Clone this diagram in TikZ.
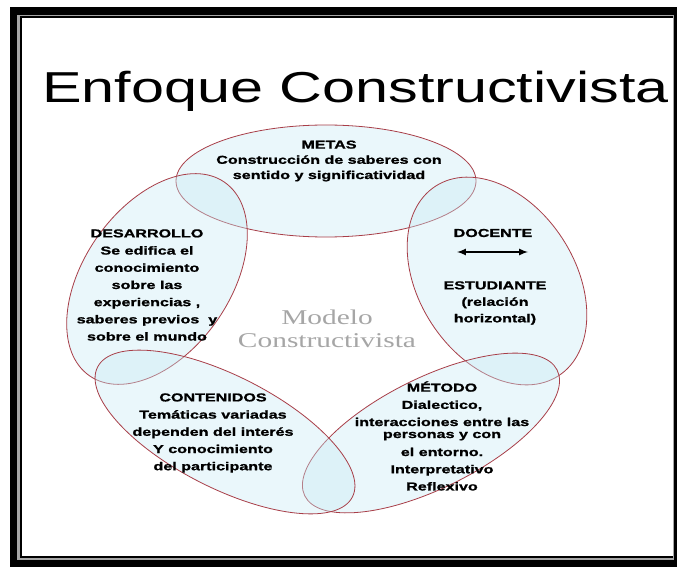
\documentclass[tikz,border=0pt]{standalone}
\usepackage{fontspec}
\setmainfont{Liberation Sans}
\newfontfamily\titlefont[FakeStretch=1.37]{Liberation Sans}
\newfontfamily\boxfont[FakeStretch=1.4, BoldFeatures={FakeBold=1.2}]{Liberation Sans}
\newfontfamily\modelfont[FakeStretch=1.4]{Liberation Serif}
\definecolor{rim}{RGB}{168,62,72}
\definecolor{bubfill}{RGB}{200,235,245}

\begin{document}
\begin{tikzpicture}[x=1pt,y=-1pt,
  bub/.style={draw=rim, line width=0.8pt, fill=bubfill, fill opacity=0.38},
  lbl/.style={align=center, inner sep=0pt, font=\boxfont\bfseries\fontsize{11.5}{17.2}\selectfont}]
\useasboundingbox (0,0) rectangle (678,567);
% frame
\fill[black] (10,7) rectangle (677,567);
\fill[gray!70] (17,15) rectangle (674,559.5);
\fill[black] (19.5,16.5) rectangle (672.5,557.5);
\fill[white] (22,18) rectangle (672.5,556);
\node (title) at (355.5,103) [anchor=base, font=\titlefont\fontsize{43.3}{50}\selectfont] {Enfoque Constructivista};
% the five ellipses
\coordinate (me) at (326,181); \coordinate (de) at (157,279); \coordinate (do) at (497,281);
\coordinate (mt) at (431,433); \coordinate (co) at (225,432);
\draw[bub] (me) ellipse [x radius=150pt, y radius=56pt];
\draw[bub, rotate around={55:(de)}] (de) ellipse [x radius=118pt, y radius=73pt];
\draw[bub, rotate around={-57:(do)}] (do) ellipse [x radius=113pt, y radius=78pt];
\draw[bub, rotate around={26.5:(mt)}] (mt) ellipse [x radius=141pt, y radius=55pt];
\draw[bub, rotate around={-27:(co)}] (co) ellipse [x radius=143pt, y radius=56pt];
% texts
\node (metas) at (329,161) [lbl] {METAS\\[-2pt]Construcción de saberes con\\[-2pt]sentido y significatividad};
\node (desa) at (147,285) [lbl] {DESARROLLO\\Se edifica el\\conocimiento\\sobre las\\experiencias ,\\saberes previos\ \ y\\sobre el mundo};
\node (doce) at (493,233) [lbl] {DOCENTE};
\coordinate (al) at (457,252); \coordinate (ar) at (528,252);
\draw[<->, >=latex, line width=2pt] (al)--(ar);
\node (estu) at (495,303) [lbl] {ESTUDIANTE\\[-0.7pt](relación\\[-0.7pt]horizontal)};
\node (cont) at (213,433) [lbl] {CONTENIDOS\\Temáticas variadas\\dependen del interés\\Y conocimiento\\del participante};
\node (meto) at (442,436) [lbl] {MÉTODO\\Dialectico,\\interacciones entre las\\[-5.2pt]personas y con\\[0.8pt]el entorno.\\Interpretativo\\Reflexivo};
\node (model) at (327,329) [align=center, inner sep=0pt, text=gray!70, font=\modelfont\fontsize{21}{23}\selectfont] {Modelo\\Constructivista};
\end{tikzpicture}
\end{document}
